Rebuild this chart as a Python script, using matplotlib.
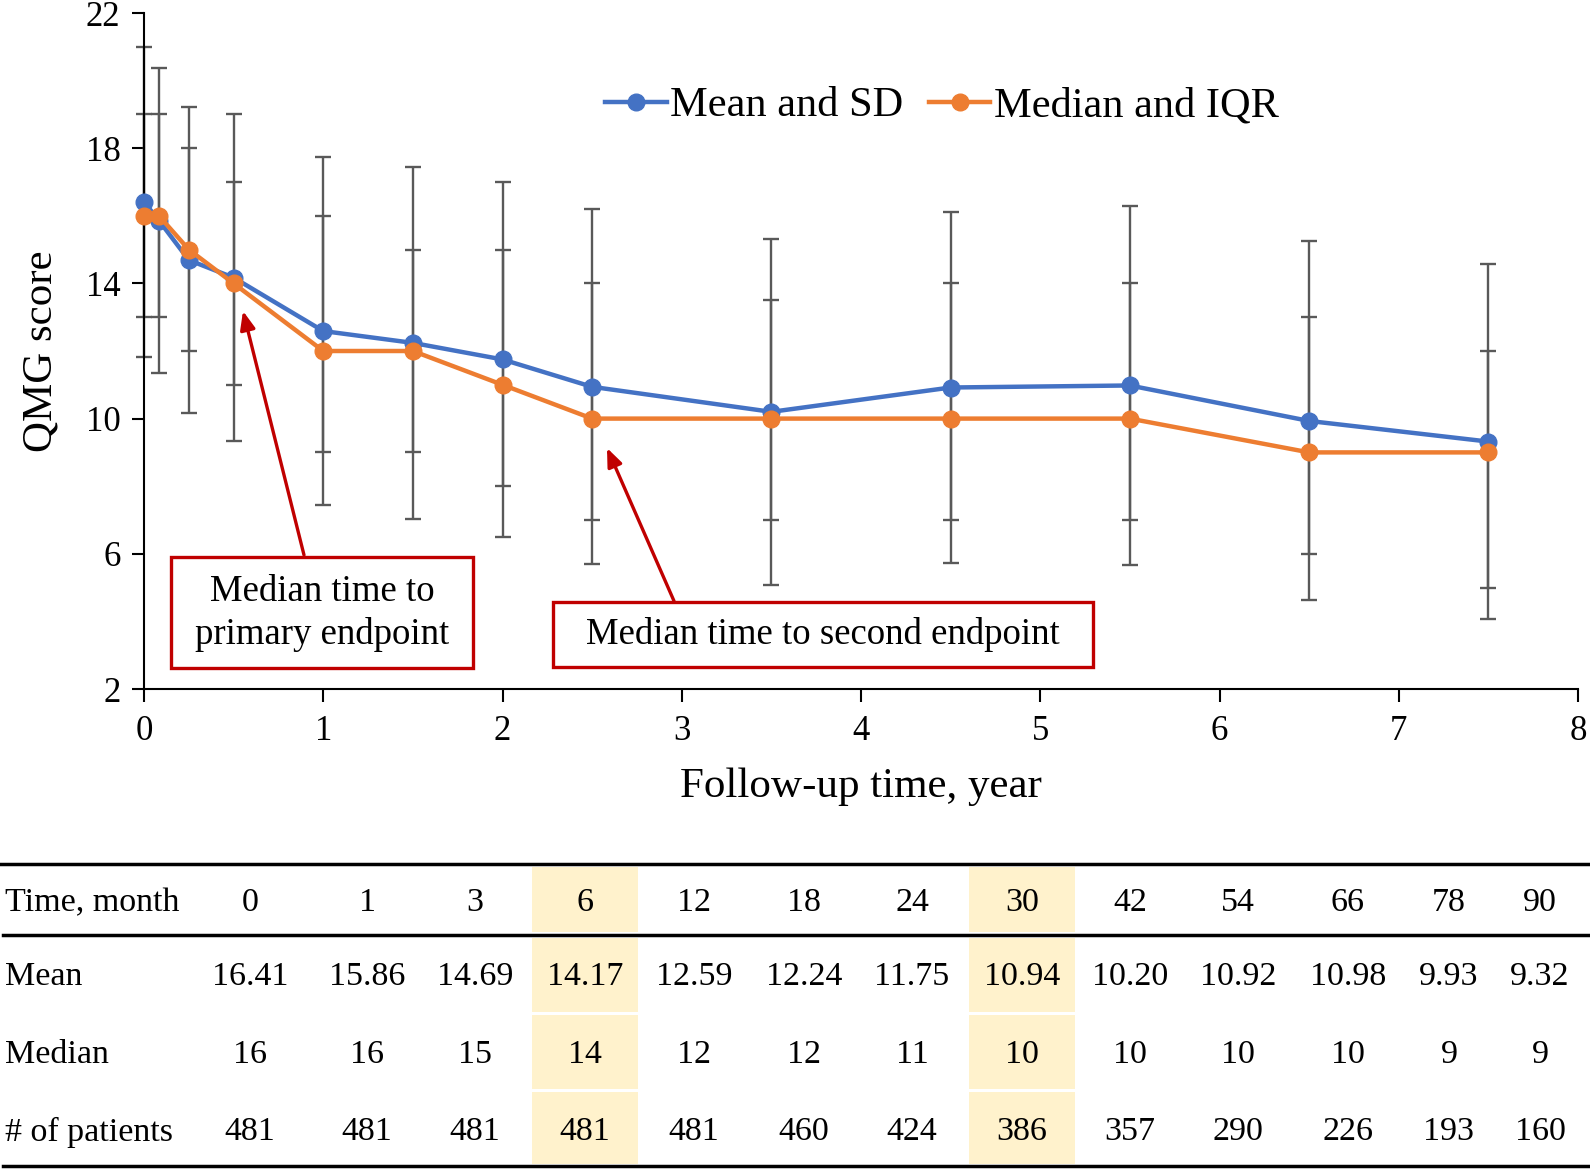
import matplotlib
matplotlib.use("Agg")
import matplotlib.pyplot as plt
from matplotlib.patches import Rectangle
import numpy as np

plt.rcParams['font.family'] = ['Liberation Serif', 'DejaVu Serif']

# ---------------- data ----------------
months = [0, 1, 3, 6, 12, 18, 24, 30, 42, 54, 66, 78, 90]
years = [m / 12 for m in months]
mean_vals = [16.41, 15.86, 14.69, 14.17, 12.59, 12.24, 11.75, 10.94, 10.20, 10.92, 10.98, 9.93, 9.32]
sd_vals = [4.59, 4.51, 4.53, 4.84, 5.14, 5.20, 5.25, 5.25, 5.11, 5.19, 5.30, 5.31, 5.24]
median_vals = [16, 16, 15, 14, 12, 12, 11, 10, 10, 10, 10, 9, 9]
q1_vals = [13, 13, 12, 11, 9, 9, 8, 7, 7, 7, 7, 6, 5]
q3_vals = [19, 19, 18, 17, 16, 15, 15, 14, 13.5, 14, 14, 13, 12]
patients = [481, 481, 481, 481, 481, 460, 424, 386, 357, 290, 226, 193, 160]
highlight_months = [6, 30]

mean_labels = [f"{v:.2f}" for v in mean_vals]
median_labels = [f"{v}" for v in median_vals]
patient_labels = [f"{v}" for v in patients]
month_labels = [f"{m}" for m in months]

BLUE = '#4472C4'
ORANGE = '#ED7D31'
GREY = '#595959'
RED = '#C00000'

W, H = 1590, 1170
fig = plt.figure(figsize=(W / 100, H / 100), dpi=100)

# main axes in pixel geometry
L, R, T, B = 144, 1578, 13, 689
ax = fig.add_axes([L / W, 1 - B / H, (R - L) / W, (B - T) / H])
ax.set_xlim(0, 8)
ax.set_ylim(2, 22)
ax.set_xticks(range(0, 9))
ax.set_yticks([2, 6, 10, 14, 18, 22])
for s in ['top', 'right']:
    ax.spines[s].set_visible(False)
for s in ['left', 'bottom']:
    ax.spines[s].set_linewidth(1.5)
ax.tick_params(axis='both', direction='out', length=9, width=1.5, labelsize=25)
ax.tick_params(axis='x', pad=10)
ax.tick_params(axis='y', pad=8)

# error bars: SD around mean
ax.errorbar(years, mean_vals, yerr=sd_vals, fmt='none', ecolor=GREY,
            elinewidth=1.7, capsize=5.5, capthick=1.7, zorder=2, clip_on=False)
# IQR ticks around median
iqr_lo = [m - q for m, q in zip(median_vals, q1_vals)]
iqr_hi = [q - m for m, q in zip(median_vals, q3_vals)]
ax.errorbar(years, median_vals, yerr=[iqr_lo, iqr_hi], fmt='none', ecolor=GREY,
            elinewidth=1.7, capsize=5.5, capthick=1.7, zorder=2, clip_on=False)

l1, = ax.plot(years, mean_vals, '-o', color=BLUE, lw=3.2, ms=12, zorder=4,
              label='Mean and SD', clip_on=False)
l2, = ax.plot(years, median_vals, '-o', color=ORANGE, lw=3.2, ms=12, zorder=5,
              label='Median and IQR', clip_on=False)

leg = fig.legend(handles=[l1, l2], loc='center', bbox_to_anchor=(942 / W, 1 - 106 / H),
                 ncol=2, frameon=False, fontsize=30.5, handlelength=1.45,
                 handletextpad=0.08, columnspacing=0.6, markerscale=1.0)

ax.set_xlabel('Follow-up time, year', fontsize=31, labelpad=14)
ax.set_ylabel('QMG score', fontsize=31, labelpad=18)

# annotation boxes
def px2d(px, py):
    return (px - L) / (R - L) * 8, 2 + (B - py) / (B - T) * 20

x0, y0 = px2d(171, 668)
x1, y1 = px2d(473, 557)
ax.add_patch(Rectangle((x0, y0), x1 - x0, y1 - y0, fill=True, facecolor='white',
                       edgecolor=RED, lw=2.4, zorder=6))
ax.text((x0 + x1) / 2, (y0 + y1) / 2 - 0.03, 'Median time to\nprimary endpoint', ha='center',
        va='center', fontsize=26.5, zorder=7, linespacing=1.3)

x0, y0 = px2d(553, 667)
x1, y1 = px2d(1093, 602)
ax.add_patch(Rectangle((x0, y0), x1 - x0, y1 - y0, fill=True, facecolor='white',
                       edgecolor=RED, lw=2.4, zorder=6))
ax.text((x0 + x1) / 2, (y0 + y1) / 2, 'Median time to second endpoint', ha='center',
        va='center', fontsize=26.5, zorder=7)

arrowprops = dict(arrowstyle='-|>,head_length=1.1,head_width=0.45', color=RED, lw=2.4,
                  shrinkA=0, shrinkB=0)
ax.annotate('', xy=px2d(243, 311), xytext=px2d(304, 555), arrowprops=arrowprops, zorder=6)
ax.annotate('', xy=px2d(607, 448), xytext=px2d(674, 601), arrowprops=arrowprops, zorder=6)

# ---------------- table ----------------
tx = fig.add_axes([0, 0, 1, 1], zorder=-1)
tx.set_xlim(0, W)
tx.set_ylim(H, 0)
tx.axis('off')

col_x = [250, 367, 475, 585, 694, 804, 912, 1022, 1130, 1238, 1348, 1449, 1540]
row_y = [903, 977, 1055, 1132]
top_line, head_line, bot_line = 864, 935, 1166
row_bounds = [(867, 932), (938, 1012), (1015, 1089), (1092, 1164)]
hw = 53
for m, cx in zip(months, col_x):
    if m in highlight_months:
        for (a, b) in row_bounds:
            tx.add_patch(Rectangle((cx - hw, a), 2 * hw, b - a, facecolor='#FFF2CC',
                                   edgecolor='none'))

tx.plot([0, 1590], [top_line, top_line], color='black', lw=2.5)
tx.plot([3, 1590], [head_line, head_line], color='black', lw=2.5)
tx.plot([3, 1590], [bot_line, bot_line], color='black', lw=2.5)

row_titles = ['Time, month', 'Mean', 'Median', '# of patients']
rows = [month_labels, mean_labels, median_labels, patient_labels]
for ry, title, vals in zip(row_y, row_titles, rows):
    tx.text(5, ry, title, ha='left', va='center', fontsize=24.5)
    for cx, v in zip(col_x, vals):
        tx.text(cx, ry, v, ha='center', va='center', fontsize=24.5)

fig.savefig('out.png', dpi=100)
